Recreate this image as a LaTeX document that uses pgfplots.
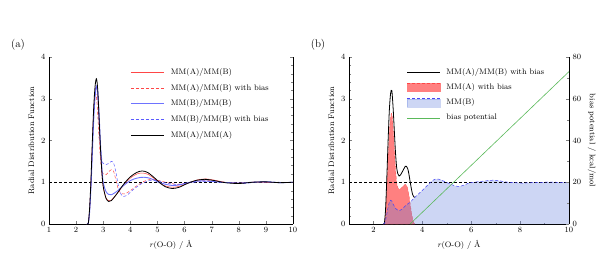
\documentclass[border=0pt]{standalone}
\usepackage{pgfplots}
\pgfplotsset{compat=1.18}
\definecolor{myred}{RGB}{255,70,70}
\definecolor{mylred}{RGB}{255,128,128}
\definecolor{myblue}{RGB}{70,70,245}
\definecolor{mydblue}{RGB}{90,90,255}
\definecolor{mymblue}{RGB}{110,115,255}
\definecolor{fillblue}{RGB}{90,120,220}
\definecolor{mygreen}{RGB}{90,185,90}
\begin{document}
\begin{tikzpicture}
\path[use as bounding box] (0pt,0pt) rectangle (606pt,-257pt);
\pgfplotsset{
  every axis/.append style={font=\fontsize{8}{9.5}\selectfont},
  myax/.style={scale only axis, anchor=south west, height=167pt,
    xmin=1, xmax=10, ymin=0, ymax=4, ytick={0,1,2,3,4}, minor y tick num=4,
    tick align=inside, axis line style={line width=0.5pt},
    major tick length=3pt, minor tick length=1.5pt,
    /pgf/number format/assume math mode=true,
    ylabel={Radial Distribution Function},
    xlabel={\textit{r}(O-O) / \AA},
    legend cell align=left,
    legend image code/.code={\draw[##1] (0pt,0pt) -- (33pt,0pt);},
  },
}
% ---------------- panel (a)
\node[font=\fontsize{11}{12}\selectfont] at (18pt,-45pt) {(a)};
\begin{axis}[myax, at={(49pt,-224pt)}, width=244pt,
  xtick={1,2,...,10},
  axis x line*=bottom, axis y line*=box,
  legend style={draw=none, fill=none, at={(axis cs:4.0,3.78)}, anchor=north west,
     row sep=4.2pt, font=\fontsize{8}{9.5}\selectfont, inner sep=0pt,
     nodes={inner xsep=6.5pt}},
]
\addplot[black, densely dashed, line width=0.6pt, forget plot] coordinates {(1,1)(10,1)};
\addplot[myred, line width=0.5pt, smooth] coordinates {
(2.4,0)(2.45,0.02)(2.5,0.35)(2.55,1.0)(2.6,1.9)(2.65,2.7)(2.7,3.15)(2.75,3.3)(2.8,3.05)(2.85,2.4)(2.9,1.75)(2.95,1.2)(3.0,0.88)(3.1,0.63)(3.2,0.56)(3.3,0.57)(3.5,0.72)(3.75,0.93)(4.0,1.1)(4.25,1.2)(4.45,1.22)(4.65,1.19)(4.9,1.08)(5.1,0.98)(5.3,0.91)(5.6,0.88)(5.9,0.92)(6.2,1.0)(6.5,1.06)(6.8,1.08)(7.1,1.05)(7.5,1.0)(8,0.98)(8.5,1.0)(9,1.0)(10,1.0)};
\addlegendentry{MM(A)/MM(B)}
\addplot[myred, densely dashed, line width=0.5pt, smooth] coordinates {
(2.4,0)(2.45,0.02)(2.5,0.4)(2.55,1.1)(2.6,2.0)(2.65,2.75)(2.7,3.1)(2.75,3.05)(2.8,2.6)(2.85,2.0)(2.9,1.55)(2.95,1.3)(3.0,1.2)(3.1,1.18)(3.2,1.25)(3.3,1.3)(3.38,1.27)(3.45,1.1)(3.55,0.85)(3.65,0.74)(3.8,0.72)(4.0,0.8)(4.25,0.92)(4.5,1.02)(4.75,1.07)(5.0,1.05)(5.3,1.0)(5.7,0.95)(6.0,0.97)(6.4,1.02)(6.8,1.05)(7.2,1.02)(7.6,0.99)(8,0.98)(8.5,1.0)(9,1.0)(10,1.0)};
\addlegendentry{MM(A)/MM(B) with bias}
\addplot[mymblue, line width=0.9pt, smooth] coordinates {
(2.4,0)(2.45,0.02)(2.5,0.3)(2.55,0.9)(2.6,1.7)(2.65,2.5)(2.7,3.05)(2.75,3.3)(2.8,3.15)(2.85,2.6)(2.9,1.9)(2.95,1.35)(3.0,1.0)(3.1,0.78)(3.2,0.71)(3.3,0.7)(3.5,0.78)(3.75,0.92)(4.0,1.04)(4.25,1.1)(4.5,1.12)(4.75,1.09)(5.0,1.01)(5.3,0.95)(5.6,0.92)(5.9,0.95)(6.2,1.0)(6.5,1.03)(6.8,1.03)(7.2,1.01)(7.6,0.99)(8,0.98)(8.5,1.0)(9,1.01)(9.5,0.99)(10,1.0)};
\addlegendentry{MM(B)/MM(B)}
\addplot[mydblue, densely dashed, line width=0.5pt, smooth] coordinates {
(2.4,0)(2.45,0.02)(2.5,0.35)(2.55,1.0)(2.6,1.85)(2.65,2.65)(2.7,3.1)(2.75,3.3)(2.8,3.0)(2.85,2.4)(2.9,1.85)(2.95,1.55)(3.0,1.45)(3.1,1.42)(3.2,1.45)(3.3,1.5)(3.37,1.48)(3.45,1.3)(3.55,0.95)(3.65,0.72)(3.75,0.66)(3.9,0.7)(4.1,0.82)(4.4,0.96)(4.7,1.04)(4.9,1.05)(5.2,1.0)(5.5,0.96)(5.8,0.95)(6.1,0.98)(6.5,1.01)(6.9,1.02)(7.3,1.0)(7.7,0.99)(8.2,0.97)(8.6,1.0)(9,1.01)(9.5,1.0)(10,1.0)};
\addlegendentry{MM(B)/MM(B) with bias}
\addplot[black, line width=0.8pt, smooth] coordinates {
(2.4,0)(2.45,0.02)(2.5,0.4)(2.55,1.1)(2.6,2.0)(2.65,2.8)(2.7,3.3)(2.75,3.48)(2.8,3.2)(2.85,2.5)(2.9,1.8)(2.95,1.25)(3.0,0.9)(3.1,0.62)(3.2,0.54)(3.3,0.56)(3.5,0.72)(3.75,0.95)(4.0,1.13)(4.25,1.24)(4.45,1.27)(4.65,1.23)(4.9,1.1)(5.1,0.98)(5.3,0.89)(5.55,0.85)(5.8,0.88)(6.1,0.97)(6.4,1.04)(6.75,1.07)(7.1,1.04)(7.5,0.99)(8,0.97)(8.5,1.0)(9,1.01)(9.5,0.99)(10,1.0)};
\addlegendentry{MM(A)/MM(A)}
\end{axis}
% ---------------- panel (b)
\node[font=\fontsize{11}{12}\selectfont] at (318pt,-45pt) {(b)};
\begin{axis}[myax, at={(349pt,-224pt)}, width=220pt,
  xtick={2,4,6,8,10}, minor x tick num=1,
  axis x line*=bottom, axis y line*=left,
  legend style={draw=none, fill=none, at={(axis cs:3.35,3.78)}, anchor=north west,
     row sep=3.8pt, font=\fontsize{8}{9.5}\selectfont, inner sep=0pt,
     nodes={inner xsep=6pt}},
]
\addlegendimage{black, line width=0.8pt}
\addlegendentry{MM(A)/MM(B) with bias}
\addlegendimage{legend image code/.code={\fill[mylred] (0pt,-4pt) rectangle (33pt,4pt); \draw[myred, densely dashed, line width=0.4pt] (0pt,4pt) -- (33pt,4pt);}}
\addlegendentry{MM(A) with bias}
\addlegendimage{legend image code/.code={\fill[fillblue, opacity=0.3] (0pt,-4pt) rectangle (33pt,4pt); \draw[myblue, densely dashed, line width=0.5pt] (0pt,4pt) -- (33pt,4pt);}}
\addlegendentry{MM(B)}
\addlegendimage{mygreen, line width=0.6pt}
\addlegendentry{bias potential}
% red fill
\addplot[draw=myred, densely dashed, line width=0.3pt, fill=mylred, smooth, forget plot] coordinates {
(2.4,0)(2.45,0.02)(2.5,0.3)(2.55,0.9)(2.6,1.6)(2.65,2.2)(2.7,2.55)(2.75,2.65)(2.8,2.35)(2.85,1.85)(2.9,1.35)(2.95,1.0)(3.0,0.87)(3.05,0.83)(3.1,0.84)(3.2,0.9)(3.3,0.95)(3.35,0.93)(3.4,0.85)(3.45,0.7)(3.5,0.5)(3.55,0.3)(3.6,0.13)(3.65,0.03)(3.7,0)} \closedcycle;
% blue fill
\addplot[draw=none, fill=fillblue, fill opacity=0.3, smooth, forget plot] coordinates {
(2.4,0)(2.45,0.01)(2.5,0.1)(2.55,0.25)(2.6,0.4)(2.65,0.52)(2.7,0.57)(2.75,0.55)(2.8,0.48)(2.85,0.43)(2.9,0.38)(2.95,0.35)(3.0,0.33)(3.05,0.32)(3.1,0.33)(3.2,0.37)(3.3,0.43)(3.4,0.48)(3.5,0.52)(3.6,0.58)(3.7,0.64)(3.9,0.75)(4.1,0.86)(4.3,0.98)(4.5,1.07)(4.7,1.07)(4.9,1.02)(5.1,0.97)(5.3,0.92)(5.5,0.9)(5.7,0.93)(5.9,0.98)(6.1,1.0)(6.4,1.02)(6.7,1.04)(6.9,1.05)(7.2,1.03)(7.5,1.0)(7.8,0.99)(8.1,0.98)(8.5,0.99)(9,1.0)(9.5,1.0)(10,1.0)} \closedcycle;
\addplot[black, densely dashed, line width=0.6pt, forget plot] coordinates {(1,1)(10,1)};
% black total
\addplot[black, line width=0.8pt, smooth, forget plot] coordinates {
(2.4,0)(2.45,0.03)(2.5,0.4)(2.55,1.15)(2.6,2.0)(2.65,2.72)(2.7,3.12)(2.75,3.2)(2.8,2.83)(2.85,2.28)(2.9,1.73)(2.95,1.35)(3.0,1.2)(3.05,1.15)(3.1,1.17)(3.2,1.27)(3.3,1.38)(3.35,1.38)(3.4,1.33)(3.45,1.2)(3.5,1.02)(3.55,0.85)(3.6,0.71)(3.65,0.65)(3.7,0.64)};
% blue line
\addplot[myblue, densely dashed, line width=0.5pt, smooth, forget plot] coordinates {
(2.4,0)(2.45,0.01)(2.5,0.1)(2.55,0.25)(2.6,0.4)(2.65,0.52)(2.7,0.57)(2.75,0.55)(2.8,0.48)(2.85,0.43)(2.9,0.38)(2.95,0.35)(3.0,0.33)(3.05,0.32)(3.1,0.33)(3.2,0.37)(3.3,0.43)(3.4,0.48)(3.5,0.52)(3.6,0.58)(3.7,0.64)(3.9,0.75)(4.1,0.86)(4.3,0.98)(4.5,1.07)(4.7,1.07)(4.9,1.02)(5.1,0.97)(5.3,0.92)(5.5,0.9)(5.7,0.93)(5.9,0.98)(6.1,1.0)(6.4,1.02)(6.7,1.04)(6.9,1.05)(7.2,1.03)(7.5,1.0)(7.8,0.99)(8.1,0.98)(8.5,0.99)(9,1.0)(9.5,1.0)(10,1.0)};
\end{axis}
\begin{axis}[scale only axis, anchor=south west, at={(349pt,-224pt)}, width=220pt, height=167pt,
  xmin=1, xmax=10, ymin=0, ymax=80, ytick={0,20,40,60,80}, minor y tick num=1,
  axis x line=none, axis y line*=right,
  tick align=inside, major tick length=3pt, minor tick length=1.5pt,
  /pgf/number format/assume math mode=true,
  font=\fontsize{8}{9.5}\selectfont,
  ylabel={bias potential / kcal/mol}, ylabel style={rotate=180},
]
\addplot[mygreen, line width=0.6pt] coordinates {(3.5,0)(10,73)};
\end{axis}
\end{tikzpicture}
\end{document}
